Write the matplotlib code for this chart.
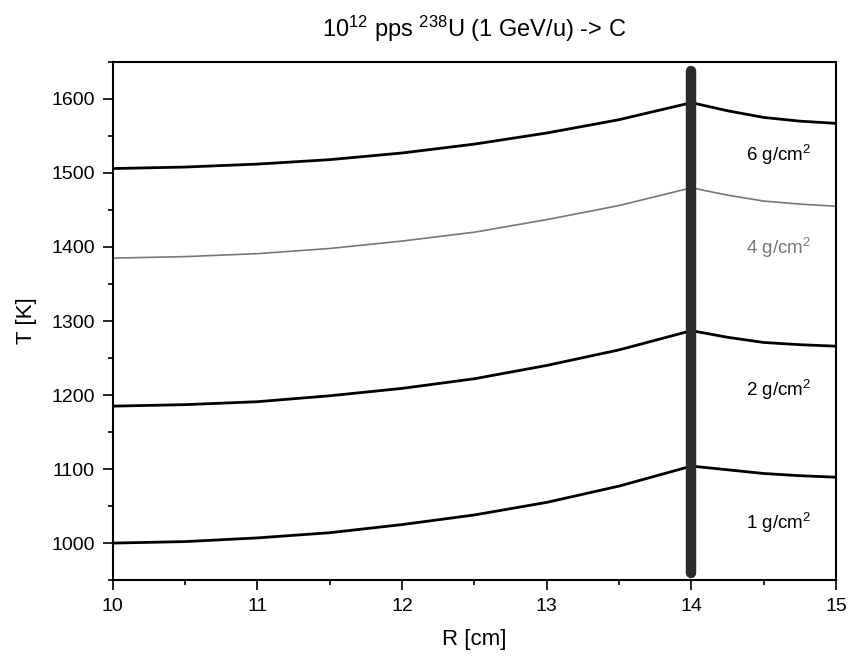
import matplotlib
matplotlib.use("Agg")
import matplotlib.pyplot as plt
from matplotlib.ticker import MultipleLocator

plt.rcParams['font.family'] = ['Liberation Sans', 'DejaVu Sans']
plt.rcParams['mathtext.default'] = 'regular'

# radius [cm], inside (10..14) and outside (14..15) of the wall
r_in  = [10, 10.5, 11, 11.5, 12, 12.5, 13, 13.5, 14]
r_out = [14, 14.25, 14.5, 14.75, 15]

# temperature [K] for each target thickness
t1_in  = [1000, 1002, 1007, 1014, 1025, 1038, 1055, 1077, 1104]
t1_out = [1104, 1099, 1094, 1091, 1089]
t2_in  = [1185, 1187, 1191, 1199, 1209, 1222, 1240, 1261, 1287]
t2_out = [1287, 1278, 1271, 1268, 1266]
t4_in  = [1385, 1387, 1391, 1398, 1408, 1420, 1437, 1456, 1480]
t4_out = [1480, 1470, 1462, 1458, 1455]
t6_in  = [1506, 1508, 1512, 1518, 1527, 1539, 1554, 1572, 1595]
t6_out = [1595, 1584, 1575, 1570, 1567]

labels   = ['1 g/cm$^2$', '2 g/cm$^2$', '4 g/cm$^2$', '6 g/cm$^2$']
label_y  = [1027, 1207, 1399, 1524]
wall_r   = 14
wall_t   = [960, 1638]

fig = plt.figure(figsize=(8.48, 6.66), dpi=100)
ax = fig.add_axes([0.133, 0.129, 0.853, 0.778])

series = [(t1_in, t1_out, 'black', 2.0),
          (t2_in, t2_out, 'black', 2.0),
          (t4_in, t4_out, '#777777', 1.2),
          (t6_in, t6_out, 'black', 2.0)]
for (tin, tout, col, lw), lab, ly in zip(series, labels, label_y):
    ax.plot(r_in, tin, color=col, lw=lw)
    ax.plot(r_out, tout, color=col, lw=lw)
    ax.text(14.6, ly, lab, color=col, fontsize=13.5, ha='center', va='center')

ax.plot([wall_r, wall_r], wall_t, color='#2a2a2a', lw=7.5,
        solid_capstyle='round', zorder=3)

ax.set_xlim(10, 15)
ax.set_ylim(950, 1650)
ax.xaxis.set_major_locator(MultipleLocator(1))
ax.xaxis.set_minor_locator(MultipleLocator(0.5))
ax.yaxis.set_major_locator(MultipleLocator(100))
ax.yaxis.set_minor_locator(MultipleLocator(50))
ax.tick_params(which='both', direction='out', top=False, right=False,
               labelsize=14, width=1.2, pad=6)
ax.tick_params(which='major', length=7)
ax.tick_params(which='minor', length=3.5)
for s in ax.spines.values():
    s.set_linewidth(1.5)

ax.set_xlabel('R [cm]', fontsize=16, labelpad=10)
ax.set_ylabel('T [K]', fontsize=16, labelpad=10)
ax.set_title('10$^{12}$ pps $^{238}$U (1 GeV/u) -> C', fontsize=17, pad=18)

fig.savefig('out.png', dpi=100)
